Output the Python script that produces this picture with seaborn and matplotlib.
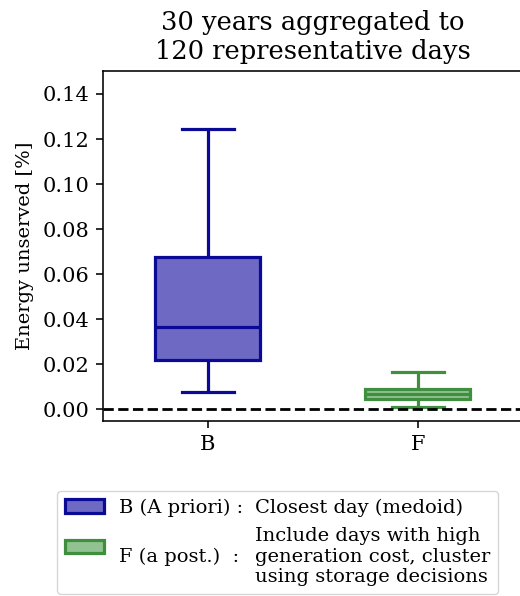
import matplotlib
matplotlib.use("Agg")
import matplotlib.pyplot as plt
from matplotlib.patches import Patch
import pandas as pd
import seaborn as sns

# five-number summaries (min, q1, median, q3, max)
casos = ["B", "F"]
stats_B = [0.0076, 0.0218, 0.0364, 0.0676, 0.1244]
stats_F = [0.0008, 0.0044, 0.0068, 0.0089, 0.0164]

etiquetas = ["B (A priori) :", "\nF (a post.)  :"]
descripciones = ["Closest day (medoid)",
                 "Include days with high\ngeneration cost, cluster\nusing storage decisions"]

titulo = "30 years aggregated to\n120 representative days"
ylabel = "Energy unserved [%]"

relleno = {"B": "#6e6ac4", "F": "#92c292"}
borde = {"B": "#0a0a96", "F": "#3f8f3f"}

df = pd.DataFrame({
    "caso": ["B"] * len(stats_B) + ["F"] * len(stats_F),
    "valor": stats_B + stats_F,
})

plt.rcParams["font.family"] = ["DejaVu Serif"]

fig = plt.figure(figsize=(5.2, 5.96), dpi=100)
ax = fig.add_axes([0.198, 0.2936, 0.8077, 0.5872])

for c in casos:
    sns.boxplot(data=df[df["caso"] == c], x="caso", y="valor", order=casos,
                color=relleno[c], linecolor=borde[c], linewidth=2.3,
                saturation=1, width=0.5, whis=(0, 100), ax=ax)

ax.axhline(0, color="black", linestyle="--", linewidth=2)
ax.set_xlim(-0.5, 1.5)
ax.set_ylim(-0.0053, 0.1502)
ax.set_yticks([0, 0.02, 0.04, 0.06, 0.08, 0.10, 0.12, 0.14])
ax.set_xlabel("")
ax.set_ylabel(ylabel, fontsize=14, labelpad=6)
ax.set_title(titulo, fontsize=18.5, pad=8.5)
ax.tick_params(labelsize=15, length=5, width=1.15, pad=5)
for s in ax.spines.values():
    s.set_linewidth(1.15)

handles = [Patch(facecolor=relleno[c], edgecolor=borde[c], linewidth=2.3) for c in casos]
vacios = [Patch(facecolor="none", edgecolor="none") for _ in casos]
fig.legend(handles + vacios, etiquetas + descripciones, ncol=2, fontsize=14,
           loc="upper left", bbox_to_anchor=(57 / 520, 1 - 491 / 596),
           borderaxespad=0, columnspacing=-2.2, labelspacing=0.5)

fig.savefig("out.png", dpi=100)
